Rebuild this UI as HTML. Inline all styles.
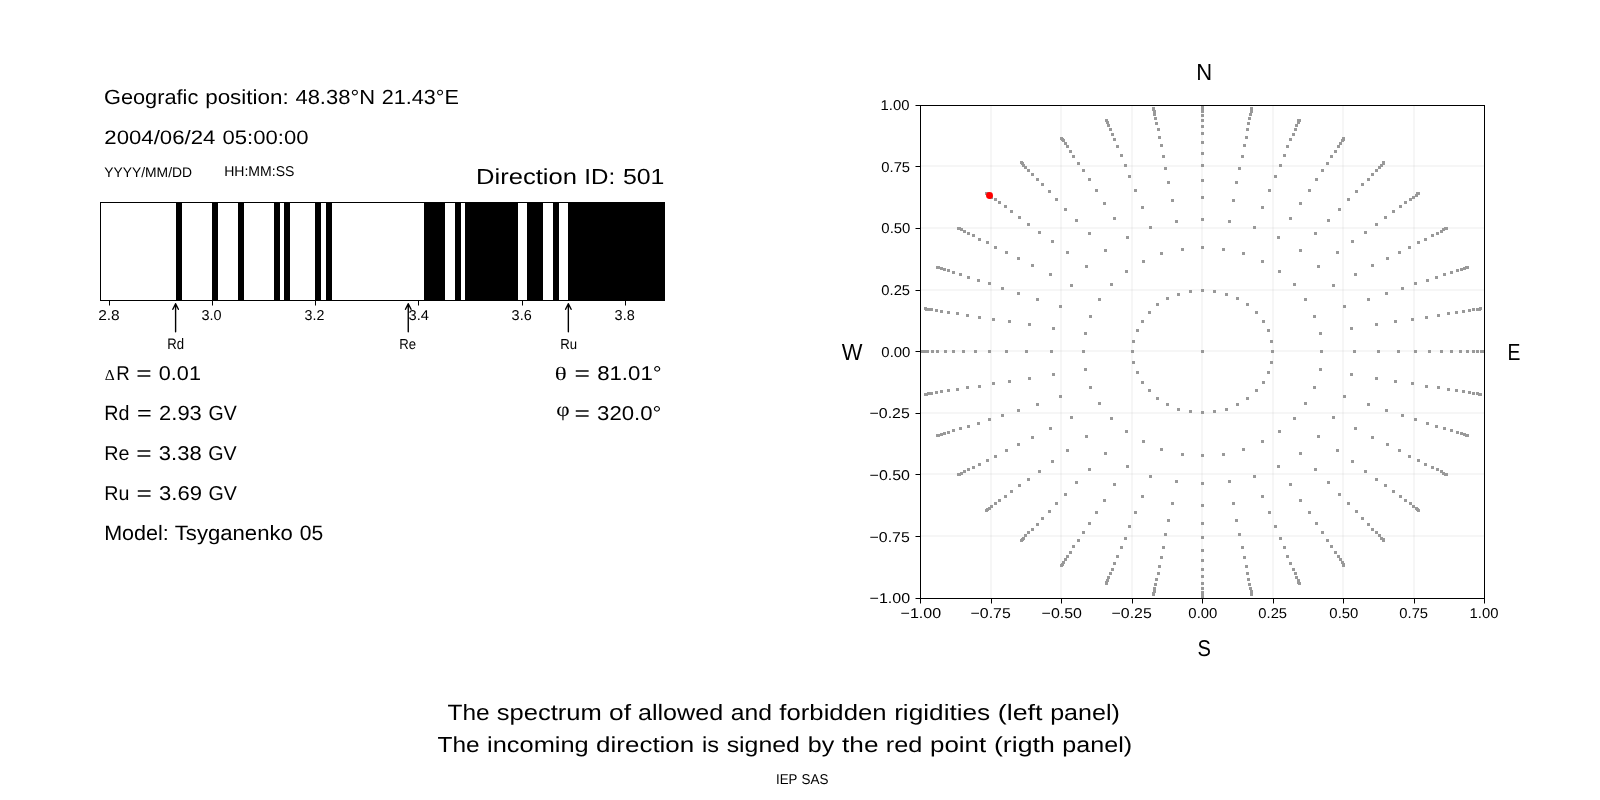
<!DOCTYPE html>
<html lang="en"><head><meta charset="utf-8"><title>Allowed and forbidden rigidities</title>
<style>
html,body{margin:0;padding:0;background:#fff;}
body{width:1600px;height:800px;overflow:hidden;font-family:"Liberation Sans",sans-serif;}
svg{display:block;position:absolute;left:0;top:0;will-change:transform;}
text{fill:#000;white-space:pre;text-rendering:geometricPrecision;}
</style></head><body>
<svg width="1600" height="800" viewBox="0 0 1600 800">
<defs><clipPath id="cr"><rect x="920" y="105" width="565" height="494"/></clipPath></defs>
<rect width="1600" height="800" fill="#fff"/>
<g>
<path d="M176 202H182V301H176ZM212 202H218V301H212ZM238 202H244V301H238ZM274 202H280V301H274ZM284 202H290V301H284ZM315 202H321V301H315ZM326 202H332V301H326ZM424 202H445V301H424ZM455 202H461V301H455ZM465 202H518V301H465ZM527 202H543V301H527ZM553 202H559V301H553ZM568 202H665V301H568Z" fill="#000" shape-rendering="crispEdges"/>
<rect x="100.5" y="202.5" width="564" height="98" fill="none" stroke="#000" stroke-width="1"/>
<path d="M109.5 301V305.5M212.5 301V305.5M315.5 301V305.5M418.5 301V305.5M522.5 301V305.5M625.5 301V305.5" stroke="#000" stroke-width="1" fill="none"/>
<path d="M175.60 331.8V303.7M172.82 309.26L175.60 303.7L178.38 309.26" stroke="#000" stroke-width="1.39" fill="none" stroke-linecap="round" stroke-linejoin="round"/>
<path d="M408.25 331.8V303.7M405.47 309.26L408.25 303.7L411.03 309.26" stroke="#000" stroke-width="1.39" fill="none" stroke-linecap="round" stroke-linejoin="round"/>
<path d="M568.35 331.8V303.7M565.57 309.26L568.35 303.7L571.13 309.26" stroke="#000" stroke-width="1.39" fill="none" stroke-linecap="round" stroke-linejoin="round"/>
<path d="M991 106V598M1061 106V598M1132 106V598M1202 106V598M1273 106V598M1343 106V598M1414 106V598" stroke="#b0b0b0" stroke-opacity="0.115" stroke-width="2" fill="none"/>
<path d="M921 166H1484M921 228H1484M921 290H1484M921 351H1484M921 413H1484M921 474H1484M921 536H1484" stroke="#b0b0b0" stroke-opacity="0.115" stroke-width="2" fill="none"/>
<g clip-path="url(#cr)"><path d="M1201 350h3v3h-3zM1271 350h3v3h-3zM1270 340h3v3h-3zM1267 329h3v3h-3zM1262 320h3v3h-3zM1255 311h3v3h-3zM1246 303h3v3h-3zM1236 297h3v3h-3zM1225 293h3v3h-3zM1213 290h3v3h-3zM1201 289h3v3h-3zM1189 290h3v3h-3zM1177 293h3v3h-3zM1166 297h3v3h-3zM1156 303h3v3h-3zM1148 311h3v3h-3zM1141 320h3v3h-3zM1136 329h3v3h-3zM1132 340h3v3h-3zM1131 350h3v3h-3zM1132 361h3v3h-3zM1136 371h3v3h-3zM1141 381h3v3h-3zM1148 389h3v3h-3zM1156 397h3v3h-3zM1166 403h3v3h-3zM1177 408h3v3h-3zM1189 410h3v3h-3zM1201 411h3v3h-3zM1213 410h3v3h-3zM1225 408h3v3h-3zM1236 403h3v3h-3zM1246 397h3v3h-3zM1255 389h3v3h-3zM1262 381h3v3h-3zM1267 371h3v3h-3zM1270 361h3v3h-3zM1320 350h3v3h-3zM1319 332h3v3h-3zM1313 315h3v3h-3zM1304 298h3v3h-3zM1293 283h3v3h-3zM1278 270h3v3h-3zM1261 260h3v3h-3zM1242 252h3v3h-3zM1222 248h3v3h-3zM1201 246h3v3h-3zM1181 248h3v3h-3zM1160 252h3v3h-3zM1142 260h3v3h-3zM1125 270h3v3h-3zM1110 283h3v3h-3zM1098 298h3v3h-3zM1089 315h3v3h-3zM1084 332h3v3h-3zM1082 350h3v3h-3zM1084 368h3v3h-3zM1089 386h3v3h-3zM1098 402h3v3h-3zM1110 417h3v3h-3zM1125 430h3v3h-3zM1142 440h3v3h-3zM1160 448h3v3h-3zM1181 453h3v3h-3zM1201 454h3v3h-3zM1222 453h3v3h-3zM1242 448h3v3h-3zM1261 440h3v3h-3zM1278 430h3v3h-3zM1293 417h3v3h-3zM1304 402h3v3h-3zM1313 386h3v3h-3zM1319 368h3v3h-3zM1353 350h3v3h-3zM1350 327h3v3h-3zM1343 305h3v3h-3zM1332 284h3v3h-3zM1317 265h3v3h-3zM1299 249h3v3h-3zM1277 236h3v3h-3zM1253 226h3v3h-3zM1228 220h3v3h-3zM1201 218h3v3h-3zM1175 220h3v3h-3zM1149 226h3v3h-3zM1126 236h3v3h-3zM1104 249h3v3h-3zM1085 265h3v3h-3zM1070 284h3v3h-3zM1059 305h3v3h-3zM1052 327h3v3h-3zM1050 350h3v3h-3zM1052 373h3v3h-3zM1059 395h3v3h-3zM1070 416h3v3h-3zM1085 435h3v3h-3zM1104 452h3v3h-3zM1126 465h3v3h-3zM1149 475h3v3h-3zM1175 480h3v3h-3zM1201 482h3v3h-3zM1228 480h3v3h-3zM1253 475h3v3h-3zM1277 465h3v3h-3zM1299 452h3v3h-3zM1317 435h3v3h-3zM1332 416h3v3h-3zM1343 395h3v3h-3zM1350 373h3v3h-3zM1377 350h3v3h-3zM1375 323h3v3h-3zM1367 298h3v3h-3zM1354 273h3v3h-3zM1336 251h3v3h-3zM1314 232h3v3h-3zM1289 217h3v3h-3zM1261 206h3v3h-3zM1232 199h3v3h-3zM1201 196h3v3h-3zM1171 199h3v3h-3zM1141 206h3v3h-3zM1113 217h3v3h-3zM1088 232h3v3h-3zM1066 251h3v3h-3zM1049 273h3v3h-3zM1036 298h3v3h-3zM1028 323h3v3h-3zM1025 350h3v3h-3zM1028 377h3v3h-3zM1036 403h3v3h-3zM1049 427h3v3h-3zM1066 449h3v3h-3zM1088 468h3v3h-3zM1113 483h3v3h-3zM1141 495h3v3h-3zM1171 502h3v3h-3zM1201 504h3v3h-3zM1232 502h3v3h-3zM1261 495h3v3h-3zM1289 483h3v3h-3zM1314 468h3v3h-3zM1336 449h3v3h-3zM1354 427h3v3h-3zM1367 403h3v3h-3zM1375 377h3v3h-3zM1397 350h3v3h-3zM1394 320h3v3h-3zM1385 292h3v3h-3zM1371 264h3v3h-3zM1351 240h3v3h-3zM1327 219h3v3h-3zM1299 202h3v3h-3zM1268 189h3v3h-3zM1235 181h3v3h-3zM1201 179h3v3h-3zM1167 181h3v3h-3zM1134 189h3v3h-3zM1103 202h3v3h-3zM1075 219h3v3h-3zM1051 240h3v3h-3zM1031 264h3v3h-3zM1017 292h3v3h-3zM1008 320h3v3h-3zM1005 350h3v3h-3zM1008 380h3v3h-3zM1017 409h3v3h-3zM1031 436h3v3h-3zM1051 460h3v3h-3zM1075 481h3v3h-3zM1103 499h3v3h-3zM1134 511h3v3h-3zM1167 519h3v3h-3zM1201 522h3v3h-3zM1235 519h3v3h-3zM1268 511h3v3h-3zM1299 499h3v3h-3zM1327 481h3v3h-3zM1351 460h3v3h-3zM1371 436h3v3h-3zM1385 409h3v3h-3zM1394 380h3v3h-3zM1414 350h3v3h-3zM1411 318h3v3h-3zM1401 287h3v3h-3zM1386 257h3v3h-3zM1364 231h3v3h-3zM1338 208h3v3h-3zM1308 189h3v3h-3zM1274 175h3v3h-3zM1238 167h3v3h-3zM1201 164h3v3h-3zM1164 167h3v3h-3zM1128 175h3v3h-3zM1095 189h3v3h-3zM1064 208h3v3h-3zM1038 231h3v3h-3zM1017 257h3v3h-3zM1001 287h3v3h-3zM992 318h3v3h-3zM988 350h3v3h-3zM992 382h3v3h-3zM1001 414h3v3h-3zM1017 443h3v3h-3zM1038 470h3v3h-3zM1064 493h3v3h-3zM1095 511h3v3h-3zM1128 525h3v3h-3zM1164 533h3v3h-3zM1201 536h3v3h-3zM1238 533h3v3h-3zM1274 525h3v3h-3zM1308 511h3v3h-3zM1338 493h3v3h-3zM1364 470h3v3h-3zM1386 443h3v3h-3zM1401 414h3v3h-3zM1411 382h3v3h-3zM1428 350h3v3h-3zM1425 316h3v3h-3zM1414 282h3v3h-3zM1398 251h3v3h-3zM1375 223h3v3h-3zM1347 198h3v3h-3zM1315 178h3v3h-3zM1279 164h3v3h-3zM1241 155h3v3h-3zM1201 152h3v3h-3zM1162 155h3v3h-3zM1124 164h3v3h-3zM1088 178h3v3h-3zM1055 198h3v3h-3zM1027 223h3v3h-3zM1005 251h3v3h-3zM988 282h3v3h-3zM978 316h3v3h-3zM974 350h3v3h-3zM978 385h3v3h-3zM988 418h3v3h-3zM1005 449h3v3h-3zM1027 478h3v3h-3zM1055 502h3v3h-3zM1088 522h3v3h-3zM1124 537h3v3h-3zM1162 546h3v3h-3zM1201 549h3v3h-3zM1241 546h3v3h-3zM1279 537h3v3h-3zM1315 522h3v3h-3zM1347 502h3v3h-3zM1375 478h3v3h-3zM1398 449h3v3h-3zM1414 418h3v3h-3zM1425 385h3v3h-3zM1440 350h3v3h-3zM1437 314h3v3h-3zM1426 279h3v3h-3zM1408 246h3v3h-3zM1384 216h3v3h-3zM1355 190h3v3h-3zM1321 169h3v3h-3zM1283 154h3v3h-3zM1243 144h3v3h-3zM1201 141h3v3h-3zM1160 144h3v3h-3zM1120 154h3v3h-3zM1082 169h3v3h-3zM1048 190h3v3h-3zM1018 216h3v3h-3zM994 246h3v3h-3zM977 279h3v3h-3zM966 314h3v3h-3zM962 350h3v3h-3zM966 386h3v3h-3zM977 422h3v3h-3zM994 455h3v3h-3zM1018 484h3v3h-3zM1048 510h3v3h-3zM1082 531h3v3h-3zM1120 546h3v3h-3zM1160 556h3v3h-3zM1201 559h3v3h-3zM1243 556h3v3h-3zM1283 546h3v3h-3zM1321 531h3v3h-3zM1355 510h3v3h-3zM1384 484h3v3h-3zM1408 455h3v3h-3zM1426 422h3v3h-3zM1437 386h3v3h-3zM1450 350h3v3h-3zM1447 312h3v3h-3zM1435 276h3v3h-3zM1417 241h3v3h-3zM1392 210h3v3h-3zM1361 183h3v3h-3zM1326 162h3v3h-3zM1286 145h3v3h-3zM1245 136h3v3h-3zM1201 132h3v3h-3zM1158 136h3v3h-3zM1116 145h3v3h-3zM1077 162h3v3h-3zM1041 183h3v3h-3zM1010 210h3v3h-3zM986 241h3v3h-3zM967 276h3v3h-3zM956 312h3v3h-3zM952 350h3v3h-3zM956 388h3v3h-3zM967 425h3v3h-3zM986 459h3v3h-3zM1010 490h3v3h-3zM1041 517h3v3h-3zM1077 539h3v3h-3zM1116 555h3v3h-3zM1158 565h3v3h-3zM1201 568h3v3h-3zM1245 565h3v3h-3zM1286 555h3v3h-3zM1326 539h3v3h-3zM1361 517h3v3h-3zM1392 490h3v3h-3zM1417 459h3v3h-3zM1435 425h3v3h-3zM1447 388h3v3h-3zM1459 350h3v3h-3zM1455 311h3v3h-3zM1443 273h3v3h-3zM1424 238h3v3h-3zM1399 205h3v3h-3zM1367 178h3v3h-3zM1330 155h3v3h-3zM1289 138h3v3h-3zM1246 128h3v3h-3zM1201 125h3v3h-3zM1157 128h3v3h-3zM1113 138h3v3h-3zM1072 155h3v3h-3zM1036 178h3v3h-3zM1004 205h3v3h-3zM978 238h3v3h-3zM959 273h3v3h-3zM947 311h3v3h-3zM944 350h3v3h-3zM947 389h3v3h-3zM959 427h3v3h-3zM978 463h3v3h-3zM1004 495h3v3h-3zM1036 523h3v3h-3zM1072 545h3v3h-3zM1113 562h3v3h-3zM1157 572h3v3h-3zM1201 575h3v3h-3zM1246 572h3v3h-3zM1289 562h3v3h-3zM1330 545h3v3h-3zM1367 523h3v3h-3zM1399 495h3v3h-3zM1424 463h3v3h-3zM1443 427h3v3h-3zM1455 389h3v3h-3zM1466 350h3v3h-3zM1462 310h3v3h-3zM1450 271h3v3h-3zM1431 234h3v3h-3zM1404 201h3v3h-3zM1371 173h3v3h-3zM1334 150h3v3h-3zM1292 133h3v3h-3zM1247 122h3v3h-3zM1201 119h3v3h-3zM1155 122h3v3h-3zM1111 133h3v3h-3zM1069 150h3v3h-3zM1031 173h3v3h-3zM998 201h3v3h-3zM972 234h3v3h-3zM952 271h3v3h-3zM940 310h3v3h-3zM936 350h3v3h-3zM940 390h3v3h-3zM952 429h3v3h-3zM972 466h3v3h-3zM998 499h3v3h-3zM1031 528h3v3h-3zM1069 551h3v3h-3zM1111 568h3v3h-3zM1155 578h3v3h-3zM1201 582h3v3h-3zM1247 578h3v3h-3zM1292 568h3v3h-3zM1334 551h3v3h-3zM1371 528h3v3h-3zM1404 499h3v3h-3zM1431 466h3v3h-3zM1450 429h3v3h-3zM1462 390h3v3h-3zM1472 350h3v3h-3zM1468 309h3v3h-3zM1456 269h3v3h-3zM1436 232h3v3h-3zM1409 198h3v3h-3zM1375 169h3v3h-3zM1337 145h3v3h-3zM1294 128h3v3h-3zM1248 117h3v3h-3zM1201 114h3v3h-3zM1154 117h3v3h-3zM1109 128h3v3h-3zM1066 145h3v3h-3zM1027 169h3v3h-3zM994 198h3v3h-3zM967 232h3v3h-3zM947 269h3v3h-3zM935 309h3v3h-3zM931 350h3v3h-3zM935 391h3v3h-3zM947 431h3v3h-3zM967 468h3v3h-3zM994 502h3v3h-3zM1027 531h3v3h-3zM1066 555h3v3h-3zM1109 572h3v3h-3zM1154 583h3v3h-3zM1201 587h3v3h-3zM1248 583h3v3h-3zM1294 572h3v3h-3zM1337 555h3v3h-3zM1375 531h3v3h-3zM1409 502h3v3h-3zM1436 468h3v3h-3zM1456 431h3v3h-3zM1468 391h3v3h-3zM1476 350h3v3h-3zM1472 308h3v3h-3zM1460 268h3v3h-3zM1440 230h3v3h-3zM1412 196h3v3h-3zM1378 166h3v3h-3zM1339 142h3v3h-3zM1295 124h3v3h-3zM1249 113h3v3h-3zM1201 110h3v3h-3zM1153 113h3v3h-3zM1107 124h3v3h-3zM1064 142h3v3h-3zM1024 166h3v3h-3zM990 196h3v3h-3zM963 230h3v3h-3zM943 268h3v3h-3zM930 308h3v3h-3zM926 350h3v3h-3zM930 392h3v3h-3zM943 432h3v3h-3zM963 470h3v3h-3zM990 505h3v3h-3zM1024 534h3v3h-3zM1064 558h3v3h-3zM1107 576h3v3h-3zM1153 587h3v3h-3zM1201 591h3v3h-3zM1249 587h3v3h-3zM1295 576h3v3h-3zM1339 558h3v3h-3zM1378 534h3v3h-3zM1412 505h3v3h-3zM1440 470h3v3h-3zM1460 432h3v3h-3zM1472 392h3v3h-3zM1480 350h3v3h-3zM1476 308h3v3h-3zM1463 267h3v3h-3zM1442 228h3v3h-3zM1415 194h3v3h-3zM1380 164h3v3h-3zM1341 139h3v3h-3zM1297 121h3v3h-3zM1250 110h3v3h-3zM1201 107h3v3h-3zM1153 110h3v3h-3zM1106 121h3v3h-3zM1062 139h3v3h-3zM1022 164h3v3h-3zM988 194h3v3h-3zM960 228h3v3h-3zM940 267h3v3h-3zM927 308h3v3h-3zM923 350h3v3h-3zM927 392h3v3h-3zM940 433h3v3h-3zM960 472h3v3h-3zM988 507h3v3h-3zM1022 537h3v3h-3zM1062 561h3v3h-3zM1106 579h3v3h-3zM1153 590h3v3h-3zM1201 594h3v3h-3zM1250 590h3v3h-3zM1297 579h3v3h-3zM1341 561h3v3h-3zM1380 537h3v3h-3zM1415 507h3v3h-3zM1442 472h3v3h-3zM1463 433h3v3h-3zM1476 392h3v3h-3zM1482 350h3v3h-3zM1478 308h3v3h-3zM1465 266h3v3h-3zM1444 227h3v3h-3zM1416 192h3v3h-3zM1382 162h3v3h-3zM1342 138h3v3h-3zM1297 119h3v3h-3zM1250 108h3v3h-3zM1201 105h3v3h-3zM1152 108h3v3h-3zM1105 119h3v3h-3zM1061 138h3v3h-3zM1021 162h3v3h-3zM986 192h3v3h-3zM958 227h3v3h-3zM937 266h3v3h-3zM925 308h3v3h-3zM920 350h3v3h-3zM925 393h3v3h-3zM937 434h3v3h-3zM958 473h3v3h-3zM986 508h3v3h-3zM1021 538h3v3h-3zM1061 563h3v3h-3zM1105 581h3v3h-3zM1152 592h3v3h-3zM1201 596h3v3h-3zM1250 592h3v3h-3zM1297 581h3v3h-3zM1342 563h3v3h-3zM1382 538h3v3h-3zM1416 508h3v3h-3zM1444 473h3v3h-3zM1465 434h3v3h-3zM1478 393h3v3h-3zM1483 350h3v3h-3zM1479 307h3v3h-3zM1466 266h3v3h-3zM1445 227h3v3h-3zM1417 192h3v3h-3zM1382 161h3v3h-3zM1342 137h3v3h-3zM1298 119h3v3h-3zM1250 107h3v3h-3zM1201 104h3v3h-3zM1152 107h3v3h-3zM1060 137h3v3h-3zM1020 161h3v3h-3zM985 192h3v3h-3zM957 227h3v3h-3zM936 266h3v3h-3zM924 307h3v3h-3zM919 350h3v3h-3zM924 393h3v3h-3zM936 434h3v3h-3zM957 473h3v3h-3zM985 509h3v3h-3zM1020 539h3v3h-3zM1060 564h3v3h-3zM1105 582h3v3h-3zM1152 593h3v3h-3zM1201 597h3v3h-3zM1250 593h3v3h-3zM1298 582h3v3h-3zM1342 564h3v3h-3zM1382 539h3v3h-3zM1417 509h3v3h-3zM1445 473h3v3h-3zM1466 434h3v3h-3zM1479 393h3v3h-3z" fill="#999"/>
<circle cx="989.5" cy="195.5" r="3.47" fill="#f00"/></g>
<rect x="920.5" y="105.5" width="564" height="493" fill="none" stroke="#000" stroke-width="1"/>
<path d="M920.5 599V603.5M991.5 599V603.5M1061.5 599V603.5M1132.5 599V603.5M1202.5 599V603.5M1273.5 599V603.5M1343.5 599V603.5M1414.5 599V603.5M1484.5 599V603.5M920 105.5H915.5M920 166.5H915.5M920 228.5H915.5M920 290.5H915.5M920 351.5H915.5M920 413.5H915.5M920 474.5H915.5M920 536.5H915.5M920 598.5H915.5" stroke="#000" stroke-width="1" fill="none"/>
</g>
<g id="texts">
<text id="t_ann_Rd" font-family="'Liberation Sans', sans-serif" font-size="14.167" transform="matrix(0.93108 0 0 1.06991 167.293 349.292)">Rd</text>
<text id="t_ann_Re" font-family="'Liberation Sans', sans-serif" font-size="14.167" transform="matrix(0.92839 0 0 1.02213 399.328 348.546)">Re</text>
<text id="t_ann_Ru" font-family="'Liberation Sans', sans-serif" font-size="14.167" transform="matrix(0.93133 0 0 1.01836 560.307 349.102)">Ru</text>
<text id="t_geo" font-family="'Liberation Sans', sans-serif" font-size="19.833" transform="matrix(1.10511 0 0 1.03263 103.947 103.618)"><tspan textLength="85.403" lengthAdjust="spacingAndGlyphs">Geografic</tspan> <tspan dx="0.666" textLength="75.614" lengthAdjust="spacingAndGlyphs">position:</tspan> <tspan dx="0.580" textLength="72.012" lengthAdjust="spacingAndGlyphs">48.38°N</tspan> <tspan dx="0.477" textLength="69.884" lengthAdjust="spacingAndGlyphs">21.43°E</tspan></text>
<text id="t_date" font-family="'Liberation Sans', sans-serif" font-size="19.833" transform="matrix(1.11835 0 0 0.98290 104.273 144.161)"><tspan textLength="99.426" lengthAdjust="spacingAndGlyphs">2004/06/24</tspan> <tspan dx="0.751" textLength="76.963" lengthAdjust="spacingAndGlyphs">05:00:00</tspan></text>
<text id="t_ymd" font-family="'Liberation Sans', sans-serif" font-size="14.167" transform="matrix(0.98001 0 0 0.97183 104.157 176.524)">YYYY/MM/DD</text>
<text id="t_hms" font-family="'Liberation Sans', sans-serif" font-size="14.167" transform="matrix(0.99234 0 0 1.00000 224.135 176.000)">HH:MM:SS</text>
<text id="t_dir" font-family="'Liberation Sans', sans-serif" font-size="22.667" transform="matrix(1.11126 0 0 0.96109 475.972 183.718)"><tspan textLength="90.895" lengthAdjust="spacingAndGlyphs">Direction</tspan> <tspan dx="0.213" textLength="27.829" lengthAdjust="spacingAndGlyphs">ID:</tspan> <tspan dx="0.709" textLength="37.379" lengthAdjust="spacingAndGlyphs">501</tspan></text>
<text id="t_dR" font-family="'Liberation Sans', sans-serif" font-size="19.833" transform="matrix(1.10133 0 0 1.00361 116.305 380.404)"><tspan textLength="12.243" lengthAdjust="spacingAndGlyphs">R</tspan> <tspan dx="0.412" textLength="14.009" lengthAdjust="spacingAndGlyphs">=</tspan> <tspan dx="0.923" textLength="38.220" lengthAdjust="spacingAndGlyphs">0.01</tspan></text>
<text id="t_Rd" font-family="'Liberation Sans', sans-serif" font-size="19.833" transform="matrix(1.06307 0 0 1.03782 104.202 420.188)"><tspan textLength="23.667" lengthAdjust="spacingAndGlyphs">Rd</tspan> <tspan dx="1.600" textLength="13.904" lengthAdjust="spacingAndGlyphs">=</tspan> <tspan dx="1.466" textLength="40.125" lengthAdjust="spacingAndGlyphs">2.93</tspan> <tspan dx="0.914" textLength="26.542" lengthAdjust="spacingAndGlyphs">GV</tspan></text>
<text id="t_Re" font-family="'Liberation Sans', sans-serif" font-size="19.833" transform="matrix(1.06893 0 0 1.00342 104.319 459.867)"><tspan textLength="23.578" lengthAdjust="spacingAndGlyphs">Re</tspan> <tspan dx="0.860" textLength="14.435" lengthAdjust="spacingAndGlyphs">=</tspan> <tspan dx="1.082" textLength="40.032" lengthAdjust="spacingAndGlyphs">3.38</tspan> <tspan dx="0.680" textLength="26.631" lengthAdjust="spacingAndGlyphs">GV</tspan></text>
<text id="t_Ru" font-family="'Liberation Sans', sans-serif" font-size="19.833" transform="matrix(1.06847 0 0 1.00449 104.225 500.316)"><tspan textLength="23.512" lengthAdjust="spacingAndGlyphs">Ru</tspan> <tspan dx="1.228" textLength="14.379" lengthAdjust="spacingAndGlyphs">=</tspan> <tspan dx="1.168" textLength="40.116" lengthAdjust="spacingAndGlyphs">3.69</tspan> <tspan dx="0.644" textLength="26.567" lengthAdjust="spacingAndGlyphs">GV</tspan></text>
<text id="t_model" font-family="'Liberation Sans', sans-serif" font-size="19.833" transform="matrix(1.10220 0 0 1.05081 104.132 540.202)"><tspan textLength="58.697" lengthAdjust="spacingAndGlyphs">Model:</tspan> <tspan dx="0.245" textLength="107.117" lengthAdjust="spacingAndGlyphs">Tsyganenko</tspan> <tspan dx="0.720" textLength="21.259" lengthAdjust="spacingAndGlyphs">05</tspan></text>
<text id="t_theta" font-family="'Liberation Sans', sans-serif" font-size="19.833" transform="matrix(1.15101 0 0 1.00514 574.553 379.741)"><tspan textLength="13.420" lengthAdjust="spacingAndGlyphs">=</tspan> <tspan dx="0.704" textLength="56.031" lengthAdjust="spacingAndGlyphs">81.01°</tspan></text>
<text id="t_phi" font-family="'Liberation Sans', sans-serif" font-size="19.833" transform="matrix(1.15010 0 0 1.00540 574.412 420.023)"><tspan textLength="13.408" lengthAdjust="spacingAndGlyphs">=</tspan> <tspan dx="0.794" textLength="55.972" lengthAdjust="spacingAndGlyphs">320.0°</tspan></text>
<text id="t_N" font-family="'Liberation Sans', sans-serif" font-size="22.667" transform="matrix(0.97042 0 0 1.02512 1196.370 80.000)">N</text>
<text id="t_S" font-family="'Liberation Sans', sans-serif" font-size="22.667" transform="matrix(0.88696 0 0 1.00656 1197.542 655.763)">S</text>
<text id="t_W" font-family="'Liberation Sans', sans-serif" font-size="22.667" transform="matrix(0.96870 0 0 1.03181 841.644 360.000)">W</text>
<text id="t_E" font-family="'Liberation Sans', sans-serif" font-size="22.667" transform="matrix(0.85360 0 0 1.02586 1507.605 360.000)">E</text>
<text id="t_cap1" font-family="'Liberation Sans', sans-serif" font-size="22.667" transform="matrix(1.12604 0 0 0.98213 447.481 719.731)"><tspan textLength="37.447" lengthAdjust="spacingAndGlyphs">The</tspan> <tspan dx="0.012" textLength="93.325" lengthAdjust="spacingAndGlyphs">spectrum</tspan> <tspan dx="0.176" textLength="19.523" lengthAdjust="spacingAndGlyphs">of</tspan> <tspan dx="-0.245" textLength="75.737" lengthAdjust="spacingAndGlyphs">allowed</tspan> <tspan dx="0.523" textLength="36.636" lengthAdjust="spacingAndGlyphs">and</tspan> <tspan dx="0.122" textLength="95.161" lengthAdjust="spacingAndGlyphs">forbidden</tspan> <tspan dx="0.461" textLength="85.332" lengthAdjust="spacingAndGlyphs">rigidities</tspan> <tspan dx="0.431" textLength="39.632" lengthAdjust="spacingAndGlyphs">(left</tspan> <tspan dx="0.595" textLength="61.897" lengthAdjust="spacingAndGlyphs">panel)</tspan></text>
<text id="t_cap2" font-family="'Liberation Sans', sans-serif" font-size="22.667" transform="matrix(1.12169 0 0 0.95614 437.527 752.185)"><tspan textLength="37.554" lengthAdjust="spacingAndGlyphs">The</tspan> <tspan dx="0.349" textLength="90.607" lengthAdjust="spacingAndGlyphs">incoming</tspan> <tspan dx="0.279" textLength="87.496" lengthAdjust="spacingAndGlyphs">direction</tspan> <tspan dx="0.673" textLength="15.158" lengthAdjust="spacingAndGlyphs">is</tspan> <tspan dx="0.443" textLength="65.308" lengthAdjust="spacingAndGlyphs">signed</tspan> <tspan dx="0.746" textLength="23.634" lengthAdjust="spacingAndGlyphs">by</tspan> <tspan dx="0.599" textLength="32.467" lengthAdjust="spacingAndGlyphs">the</tspan> <tspan dx="0.176" textLength="32.587" lengthAdjust="spacingAndGlyphs">red</tspan> <tspan dx="0.610" textLength="50.132" lengthAdjust="spacingAndGlyphs">point</tspan> <tspan dx="0.565" textLength="54.214" lengthAdjust="spacingAndGlyphs">(rigth</tspan> <tspan dx="0.467" textLength="62.207" lengthAdjust="spacingAndGlyphs">panel)</tspan></text>
<text id="t_iep" font-family="'Liberation Sans', sans-serif" font-size="14.167" transform="matrix(0.94215 0 0 1.00049 776.100 784.018)"><tspan textLength="22.410" lengthAdjust="spacingAndGlyphs">IEP</tspan> <tspan dx="0.522" textLength="28.634" lengthAdjust="spacingAndGlyphs">SAS</tspan></text>
<text id="t_lx0" font-family="'Liberation Sans', sans-serif" font-size="14.167" transform="matrix(1.09370 0 0 1.00144 98.182 320.045)">2.8</text>
<text id="t_lx1" font-family="'Liberation Sans', sans-serif" font-size="14.167" transform="matrix(1.02125 0 0 1.00572 201.496 319.975)">3.0</text>
<text id="t_lx2" font-family="'Liberation Sans', sans-serif" font-size="14.167" transform="matrix(1.00504 0 0 1.00463 304.517 319.862)">3.2</text>
<text id="t_lx3" font-family="'Liberation Sans', sans-serif" font-size="14.167" transform="matrix(1.03316 0 0 0.99997 408.552 320.302)">3.4</text>
<text id="t_lx4" font-family="'Liberation Sans', sans-serif" font-size="14.167" transform="matrix(1.01886 0 0 1.00202 511.610 319.876)">3.6</text>
<text id="t_lx5" font-family="'Liberation Sans', sans-serif" font-size="14.167" transform="matrix(1.02073 0 0 1.00856 614.621 320.008)">3.8</text>
<text id="t_rx0" font-family="'Liberation Sans', sans-serif" font-size="14.167" transform="matrix(1.13199 0 0 1.00239 900.598 617.692)">−1.00</text>
<text id="t_rx1" font-family="'Liberation Sans', sans-serif" font-size="14.167" transform="matrix(1.12331 0 0 1.00267 970.574 617.564)">−0.75</text>
<text id="t_rx2" font-family="'Liberation Sans', sans-serif" font-size="14.167" transform="matrix(1.12750 0 0 0.99989 1041.611 618.266)">−0.50</text>
<text id="t_rx3" font-family="'Liberation Sans', sans-serif" font-size="14.167" transform="matrix(1.12338 0 0 1.00148 1111.573 617.782)">−0.25</text>
<text id="t_rx4" font-family="'Liberation Sans', sans-serif" font-size="14.167" transform="matrix(1.05599 0 0 1.00356 1188.335 617.500)">0.00</text>
<text id="t_rx5" font-family="'Liberation Sans', sans-serif" font-size="14.167" transform="matrix(1.04355 0 0 1.00000 1258.330 618.000)">0.25</text>
<text id="t_rx6" font-family="'Liberation Sans', sans-serif" font-size="14.167" transform="matrix(1.05460 0 0 1.00429 1329.346 617.860)">0.50</text>
<text id="t_rx7" font-family="'Liberation Sans', sans-serif" font-size="14.167" transform="matrix(1.04470 0 0 1.00358 1399.296 618.036)">0.75</text>
<text id="t_rx8" font-family="'Liberation Sans', sans-serif" font-size="14.167" transform="matrix(1.04783 0 0 1.00411 1469.537 617.579)">1.00</text>
<text id="t_ry0" font-family="'Liberation Sans', sans-serif" font-size="14.167" transform="matrix(1.13199 0 0 1.00239 869.598 602.692)">−1.00</text>
<text id="t_ry1" font-family="'Liberation Sans', sans-serif" font-size="14.167" transform="matrix(1.12331 0 0 1.00267 869.574 541.564)">−0.75</text>
<text id="t_ry2" font-family="'Liberation Sans', sans-serif" font-size="14.167" transform="matrix(1.12750 0 0 0.99989 869.611 480.266)">−0.50</text>
<text id="t_ry3" font-family="'Liberation Sans', sans-serif" font-size="14.167" transform="matrix(1.12338 0 0 1.00148 869.573 417.782)">−0.25</text>
<text id="t_ry4" font-family="'Liberation Sans', sans-serif" font-size="14.167" transform="matrix(1.05599 0 0 1.00356 881.335 356.500)">0.00</text>
<text id="t_ry5" font-family="'Liberation Sans', sans-serif" font-size="14.167" transform="matrix(1.04355 0 0 1.00000 881.330 295.000)">0.25</text>
<text id="t_ry6" font-family="'Liberation Sans', sans-serif" font-size="14.167" transform="matrix(1.05460 0 0 1.00429 881.346 232.860)">0.50</text>
<text id="t_ry7" font-family="'Liberation Sans', sans-serif" font-size="14.167" transform="matrix(1.04470 0 0 1.00358 881.296 172.036)">0.75</text>
<text id="t_ry8" font-family="'Liberation Sans', sans-serif" font-size="14.167" transform="matrix(1.04783 0 0 1.00411 880.537 109.579)">1.00</text>
<text id="t_gDelta" font-family="'Liberation Serif', serif" font-size="15.583" transform="matrix(0.99828 0 0 0.96348 104.751 379.777)">Δ</text>
<text id="t_gTheta" font-family="'Liberation Serif', serif" font-size="19.833" transform="matrix(1.26668 0 0 0.96448 554.634 380.394)">θ</text>
<text id="t_gPhi" font-family="'Liberation Serif', serif" font-size="19.833" transform="matrix(1.17250 0 0 1.00546 556.173 416.129)">φ</text>
</g>
</svg>
</body></html>
